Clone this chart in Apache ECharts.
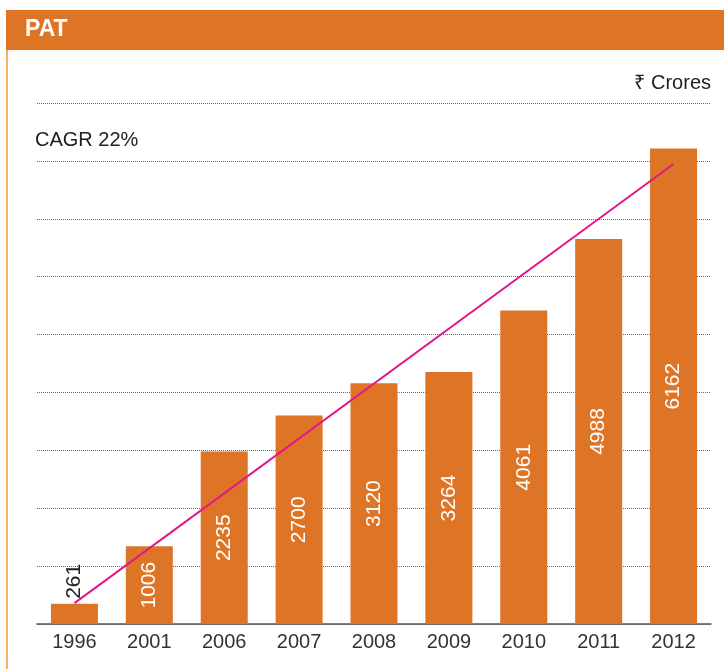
<!DOCTYPE html>
<html>
<head>
<meta charset="utf-8">
<script src="https://cdn.jsdelivr.net/npm/echarts@6/dist/echarts.min.js"></script>
<style>
  html, body { margin: 0; padding: 0; background: #fff; }
  #main { width: 724px; height: 669px; }
</style>
</head>
<body>
<div id="main"></div>
<script>
var years = ['1996', '2001', '2006', '2007', '2008', '2009', '2010', '2011', '2012'];
var pat = [261, 1006, 2235, 2700, 3120, 3264, 4061, 4988, 6162];
// CAGR line: only its two ends
var cagrLine = [270, null, null, null, null, null, null, null, 5960];

var orange = '#DD7426';
var font = '"Liberation Sans", Arial, sans-serif';

var myChart = echarts.init(document.getElementById('main'));

var barData = pat.map(function (v, i) {
    if (i === 0) {
        // small bar: label sits above it in dark text
        return {
            value: v,
            label: { position: 'top', color: '#222', align: 'left', verticalAlign: 'middle', distance: 5 }
        };
    }
    return v;
});

var option = {
    animation: false,
    backgroundColor: '#fff',
    textStyle: { fontFamily: font },
    grid: { left: 37, right: 13, top: 103, bottom: 45 },
    graphic: [
        { type: 'rect', shape: { x: 6, y: 10, width: 718, height: 40 }, style: { fill: orange } },
        { type: 'rect', shape: { x: 6, y: 50, width: 2, height: 619 }, style: { fill: '#F6B064' } },
        { type: 'text', left: 25, top: 18, style: { text: 'PAT', fill: '#fff', font: 'bold 23px "Liberation Sans Narrow", ' + font } },
        { type: 'text', right: 13, top: 73, style: { text: '₹ Crores', fill: '#222', font: '20px ' + font } },
        { type: 'text', left: 35, top: 130, style: { text: 'CAGR 22%', fill: '#222', font: '20px ' + font } }
    ],
    xAxis: {
        type: 'category',
        data: years,
        axisLine: { lineStyle: { color: '#555', width: 1.5 } },
        axisTick: { inside: true, length: 6, lineStyle: { color: '#444' } },
        axisLabel: { color: '#333', fontSize: 20, margin: 8, fontFamily: font }
    },
    yAxis: {
        type: 'value',
        min: 0,
        max: 6750,
        interval: 750,
        axisLine: { show: false },
        axisTick: { show: false },
        axisLabel: { show: false },
        splitLine: { lineStyle: { color: '#666', type: [1, 1], width: 1 } }
    },
    series: [
        {
            name: 'PAT',
            type: 'bar',
            data: barData,
            barWidth: 47,
            itemStyle: { color: orange },
            z: 2,
            label: {
                show: true,
                position: 'inside',
                rotate: 90,
                color: '#fff',
                fontSize: 21,
                fontFamily: font
            }
        },
        {
            name: 'CAGR',
            type: 'line',
            data: cagrLine,
            connectNulls: true,
            symbol: 'none',
            lineStyle: { color: '#E4178A', width: 2 },
            z: 3
        }
    ]
};

myChart.setOption(option);
</script>
</body>
</html>
